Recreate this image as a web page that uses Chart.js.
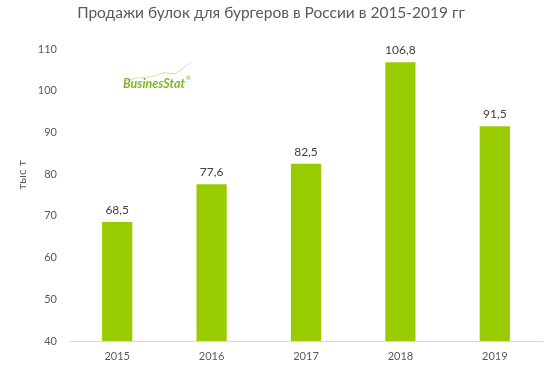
<!DOCTYPE html>
<html><head><meta charset="utf-8">
<script src="https://cdn.jsdelivr.net/npm/chart.js@4/dist/chart.umd.min.js"></script>
<style>html,body{margin:0;padding:0;background:#fff}#wrap{width:556px;height:372px}</style>
</head><body><div id="wrap"><canvas id="c" width="556" height="372"></canvas></div>
<script>
const categories = ["2015","2016","2017","2018","2019"];
const sales = [68.5, 77.6, 82.5, 106.8, 91.5];
const valueLabels = ["68,5","77,6","82,5","106,8","91,5"];
const titleText = "Продажи булок для бургеров в России в 2015-2019 гг";
const unitText = "тыс т";
const FONT = "Lato, 'Open Sans', sans-serif";

const extras = {
  id: 'extras',
  afterDatasetsDraw(chart) {
    const ctx = chart.ctx;
    const meta = chart.getDatasetMeta(0);
    ctx.save();
    ctx.font = "12px " + FONT;
    ctx.fillStyle = "#404040";
    ctx.textAlign = "center";
    ctx.textBaseline = "bottom";
    meta.data.forEach((bar, i) => {
      ctx.fillText(valueLabels[i], bar.x, bar.y - 6);
    });
    // unit label
    ctx.translate(22, 175);
    ctx.rotate(-Math.PI/2);
    ctx.textAlign = "center";
    ctx.textBaseline = "middle";
    ctx.fillStyle = "#595959";
    ctx.font = "12px " + FONT;
    ctx.fillText(unitText, 0, 0);
    ctx.restore();
    // logo
    ctx.save();
    ctx.strokeStyle = "rgba(150,190,120,0.6)";
    ctx.lineWidth = 0.8;
    ctx.beginPath();
    ctx.moveTo(126, 81);
    ctx.bezierCurveTo(138, 76, 150, 79, 160, 74);
    ctx.bezierCurveTo(168, 70, 172, 77, 178, 72);
    ctx.bezierCurveTo(183, 68, 186, 66, 191, 62);
    ctx.stroke();
    ctx.fillStyle = "#7dba1f";
    ctx.font = "italic bold 12.5px " + FONT;
    ctx.textAlign = "left";
    ctx.textBaseline = "alphabetic";
    ctx.fillText("BusinesStat", 123, 88);
    ctx.font = "6px " + FONT;
    ctx.fillText("®", 186, 80);
    ctx.restore();
  }
};

new Chart(document.getElementById('c'), {
  type: 'bar',
  data: {
    labels: categories,
    datasets: [{
      data: sales,
      backgroundColor: '#99cc00',
      borderWidth: 0,
      barPercentage: 0.32,
      categoryPercentage: 1.0
    }]
  },
  options: {
    responsive: false,
    animation: false,
    devicePixelRatio: 1,
    layout: { padding: { left: 0, right: 14, top: 0, bottom: 0 } },
    plugins: {
      legend: { display: false },
      tooltip: { enabled: false },
      title: {
        display: true,
        text: titleText,
        color: '#595959',
        font: { family: FONT, size: 15.5, weight: 'normal', lineHeight: 1.2 },
        padding: { top: 4, bottom: 26.4 }
      }
    },
    scales: {
      x: {
        grid: { display: false, drawTicks: false },
        border: { display: true, color: '#d9d9d9', width: 1 },
        ticks: { color: '#595959', font: { family: FONT, size: 11 }, padding: 9 },
        afterFit(s) { s.height = 31; }
      },
      y: {
        min: 40, max: 110,
        grid: { display: false, drawTicks: false },
        border: { display: false },
        ticks: { stepSize: 10, color: '#595959', font: { family: FONT, size: 11 }, padding: 13 },
        afterFit(s) { s.width = 70; }
      }
    }
  },
  plugins: [extras]
});
</script>
</body></html>
